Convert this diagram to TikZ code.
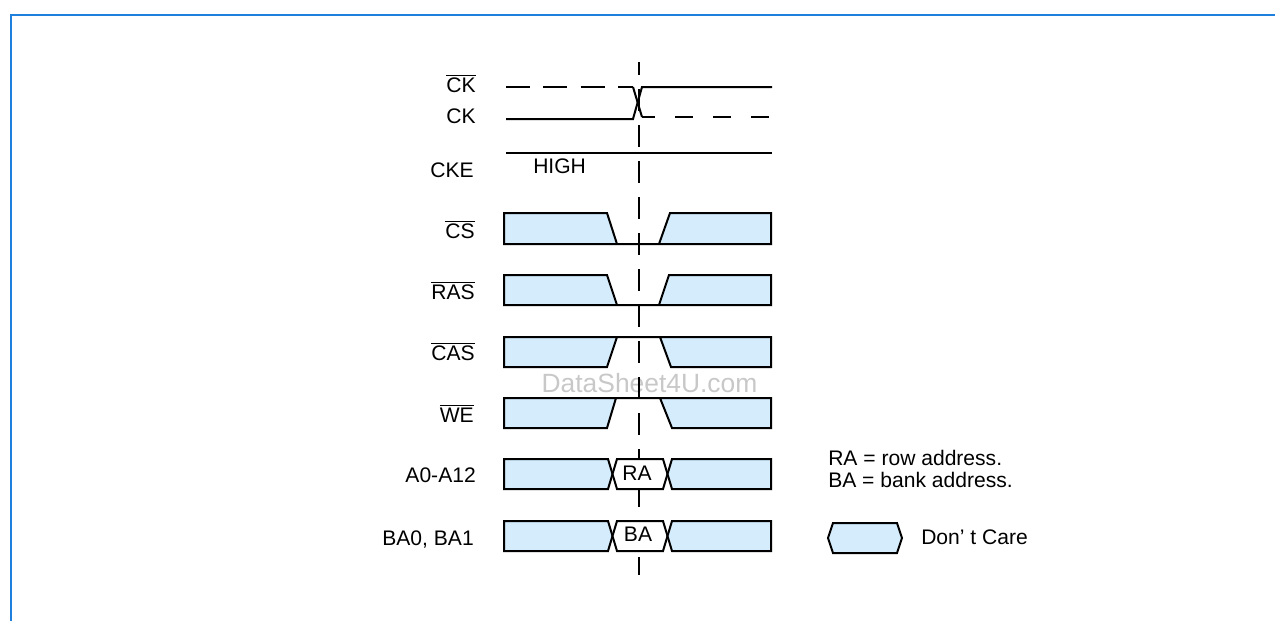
\documentclass[tikz,border=0pt]{standalone}
\usepackage{fontspec}
\setmainfont{Liberation Sans}
\definecolor{frameblue}{RGB}{30,128,220}
\definecolor{dcfill}{RGB}{212,236,252}
\definecolor{wmgray}{RGB}{200,200,200}
\newcommand{\ovl}[1]{$\overline{\mbox{#1}}$}
\begin{document}
\begin{tikzpicture}[x=0.75pt,y=-0.75pt,
  sig/.style={line width=1.5pt},
  busfill/.style={draw, line width=1.5pt, fill=dcfill, line join=miter},
  wbox/.style={draw, line width=1.5pt, fill=white, line join=miter},
  lbl/.style={anchor=base east, inner sep=0pt, font=\fontsize{15.8}{19}\selectfont},
  txt/.style={anchor=base west, inner sep=0pt, font=\fontsize{15.8}{19}\selectfont},
  ctxt/.style={anchor=base, inner sep=0pt, font=\fontsize{15.8}{19}\selectfont},
  vdash/.style={line width=1.5pt, dash pattern=on 16.5pt off 10.5pt, dash phase=6.75pt},
  ckdash/.style={line width=1.5pt, dash pattern=on 18pt off 10pt},
  ckdashb/.style={line width=1.5pt, dash pattern=on 13.5pt off 15pt, dash phase=3.75pt}]
\useasboundingbox (0,0) rectangle (1275,621);
% frame
\draw[frameblue, line width=1.5pt] (11,621) -- (11,15) -- (1276,15);
% watermark
\node[anchor=base, inner sep=0pt, text=wmgray, font=\fontsize{19.8}{24}\selectfont] (wm) at (649.5,392) {DataSheet4U.com};
% vertical dashed reference line
\draw[vdash] (639,62) -- (639,575);
% labels
\node[lbl] (lckb) at (476,92) {\ovl{CK}};
\node[lbl] (lck) at (476,123) {CK};
\node[lbl] (lcke) at (474,177) {CKE};
\node[lbl] (lcs) at (475,238) {\ovl{CS}};
\node[lbl] (lras) at (475,299) {\ovl{RAS}};
\node[lbl] (lcas) at (475,360) {\ovl{CAS}};
\node[lbl] (lwe) at (474,422) {\ovl{WE}};
\node[lbl] (la) at (476,482) {A0-A12};
\node[lbl] (lba) at (474,545) {BA0, BA1};
% clocks
\draw[ckdash] (506,87) -- (633,87);
\draw[sig] (633,87) -- (642,117);
\draw[ckdashb] (642,117) -- (772,117);
\draw[sig, line join=miter] (506,119) -- (633,119) -- (642,87) -- (772,87);
% CKE
\draw[sig] (506,153) -- (772,153);
\node[txt] (high) at (533,173) {HIGH};
% CS
\path[busfill] (504,244) -- (504,213) -- (607,213) -- (617,244) -- (659,244) -- (670,213) -- (771,213) -- (771,244) -- cycle;
% RAS
\path[busfill] (504,305) -- (504,275) -- (607,275) -- (617,305) -- (659,305) -- (669,275) -- (771,275) -- (771,305) -- cycle;
% CAS
\path[busfill] (504,337) -- (771,337) -- (771,367) -- (671,367) -- (660,337) -- (617,337) -- (607,367) -- (504,367) -- cycle;
% WE
\path[busfill] (504,398) -- (771,398) -- (771,428) -- (672,428) -- (660,398) -- (616,398) -- (607,428) -- (504,428) -- cycle;
% A0-A12
\path[busfill] (504,459) -- (608,459) -- (612.5,474) -- (608,489) -- (504,489) -- cycle;
\path[wbox] (612.5,474) -- (617,459) -- (663,459) -- (667.5,474) -- (663,489) -- (617,489) -- cycle;
\path[busfill] (672,459) -- (771,459) -- (771,489) -- (672,489) -- (667.5,474) -- cycle;
\node[ctxt] (ra) at (637,480) {RA};
% BA0, BA1
\path[busfill] (504,521) -- (608,521) -- (612.5,536) -- (608,551) -- (504,551) -- cycle;
\path[wbox] (612.5,536) -- (617,521) -- (663,521) -- (667.5,536) -- (663,551) -- (617,551) -- cycle;
\path[busfill] (672,521) -- (771,521) -- (771,551) -- (672,551) -- (667.5,536) -- cycle;
\node[ctxt] (ba) at (638,541) {BA};
% legend
\node[txt] (leg1) at (828,465) {RA = row address.};
\node[txt] (leg2) at (828,487) {BA = bank address.};
\path[busfill] (828,538) -- (833,523) -- (897,523) -- (902,538) -- (897,553) -- (833,553) -- cycle;
\node[txt] (dc) at (921,544) {Don' t Care};
\end{tikzpicture}
\end{document}
